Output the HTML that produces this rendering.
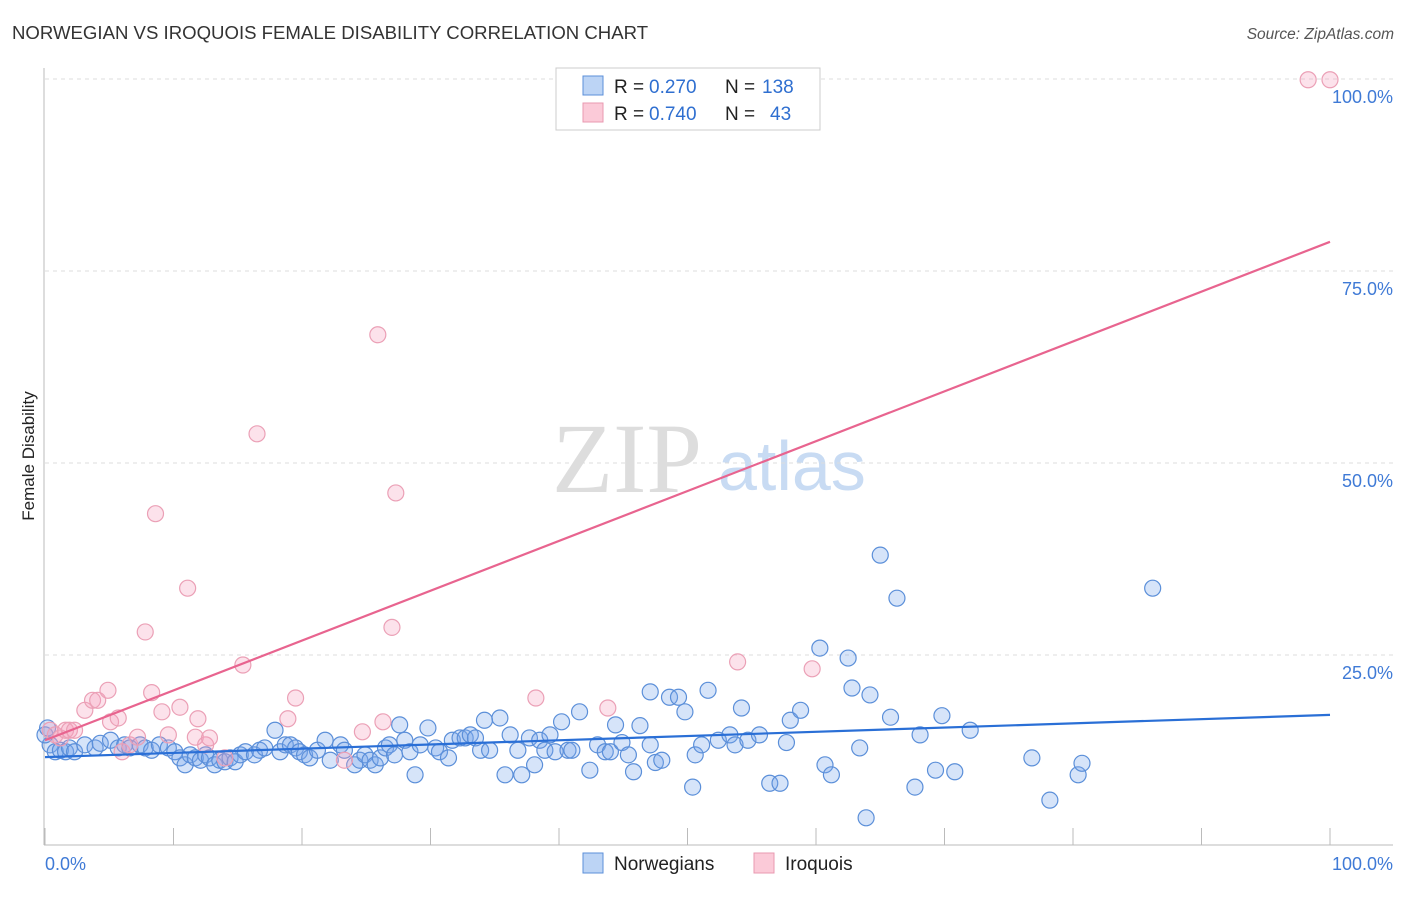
<!DOCTYPE html>
<html><head><meta charset="utf-8"><style>
body{margin:0;background:#fff;width:1406px;height:892px;overflow:hidden;font-family:"Liberation Sans",sans-serif}
</style></head><body>
<svg width="1406" height="892" xmlns="http://www.w3.org/2000/svg">
<text x="12" y="39" font-size="18.6" fill="#333">NORWEGIAN VS IROQUOIS FEMALE DISABILITY CORRELATION CHART</text>
<text x="1394" y="39" font-size="15.5" fill="#555" font-style="italic" text-anchor="end">Source: ZipAtlas.com</text>
<text transform="translate(34,456) rotate(-90)" font-size="17" fill="#222" text-anchor="middle">Female Disability</text>
<g>
<text x="552" y="492" font-size="100" font-family="Liberation Serif,serif" fill="#ddd">ZIP</text>
<text x="718" y="490" font-size="70" fill="#c8dbf3">atlas</text>
</g>
<g id="grid"></g><g id="axes"></g><g id="marks"></g>
<g>
<rect x="556" y="68" width="264" height="62" fill="#fff" stroke="#ccc"/>
<rect x="583" y="76" width="20" height="19" fill="#bcd4f5" stroke="#5b8fd9"/>
<rect x="583" y="103" width="20" height="19" fill="#fbcad8" stroke="#e899b0"/>
<text x="614" y="93" font-size="19" fill="#222">R =</text>
<text x="649" y="93" font-size="19" fill="#2f6fd0">0.270</text>
<text x="725" y="93" font-size="19" fill="#222">N =</text>
<text x="762" y="93" font-size="19" fill="#2f6fd0">138</text>
<text x="614" y="120" font-size="19" fill="#222">R =</text>
<text x="649" y="120" font-size="19" fill="#2f6fd0">0.740</text>
<text x="725" y="120" font-size="19" fill="#222">N =</text>
<text x="770" y="120" font-size="19" fill="#2f6fd0">43</text>
</g>
<g>
<rect x="583" y="853" width="20" height="20" fill="#bcd4f5" stroke="#5b8fd9"/>
<text x="614" y="870" font-size="19" fill="#222">Norwegians</text>
<rect x="754" y="853" width="20" height="20" fill="#fbcad8" stroke="#e899b0"/>
<text x="785" y="870" font-size="19" fill="#222">Iroquois</text>
</g>
</svg>
<script>
const blueX=[0.4,0.8,1.2,1.6,1.9,2.3,3.1,3.9,4.3,5.1,5.7,6.2,6.6,7.4,7.8,8.3,8.9,9.6,10.1,10.5,10.9,11.3,11.7,12.1,12.5,12.8,13.2,13.6,14.0,14.4,14.8,15.2,15.6,16.3,16.7,17.1,17.9,18.3,18.7,19.1,19.5,19.8,20.2,20.6,21.2,21.8,22.2,23.0,23.3,24.1,24.5,24.9,25.3,25.7,26.1,26.5,26.8,27.2,27.6,28.0,28.4,28.8,29.2,29.8,30.4,30.7,31.4,31.7,32.3,32.7,33.1,33.5,33.9,34.2,34.6,35.4,35.8,36.2,36.8,37.1,37.7,38.1,38.5,38.9,39.3,39.7,40.2,40.7,41.0,41.6,42.4,43.0,43.6,44.0,44.4,44.9,45.4,45.8,46.3,47.1,47.1,47.5,48.0,48.6,49.3,49.8,50.6,50.4,51.1,51.6,52.4,53.3,53.7,54.2,54.7,55.6,56.4,57.2,57.7,58.0,58.8,60.3,60.7,61.2,62.5,62.8,63.4,64.2,65.0,63.9,65.8,66.3,67.7,68.1,69.3,69.8,70.8,72.0,76.8,78.2,80.4,80.7,86.2,0,0.2];
const blueY=[13.3,12.4,12.6,12.4,12.9,12.4,13.3,12.9,13.5,13.9,12.9,13.3,12.9,13.3,12.9,12.6,13.3,12.9,12.4,11.6,10.7,12.0,11.6,11.3,12.0,11.6,10.7,11.3,11.1,11.6,11.1,12.0,12.4,12.0,12.6,12.9,15.2,12.4,13.3,13.3,12.9,12.4,12.0,11.6,12.6,13.9,11.3,13.3,12.6,10.7,11.3,12.0,11.3,10.7,11.6,12.9,13.3,12.0,15.9,13.9,12.4,9.4,13.3,15.5,12.9,12.4,11.6,13.9,14.2,14.2,14.6,14.2,12.6,16.5,12.6,16.8,9.4,14.6,12.6,9.4,14.2,10.7,13.9,12.6,14.6,12.4,16.3,12.6,12.6,17.6,10.0,13.3,12.4,12.4,15.9,13.6,12.0,9.8,15.8,13.3,20.2,11.0,11.3,19.5,19.5,17.6,12.0,7.8,13.3,20.4,13.9,14.6,13.3,18.1,13.9,14.6,8.3,8.3,13.6,16.5,17.8,25.9,10.7,9.4,24.6,20.7,12.9,19.8,38.0,3.8,16.9,32.4,7.8,14.6,10.0,17.1,9.8,15.2,11.6,6.1,9.4,10.9,33.7,14.6,15.5];
const pinkX=[0.4,0.8,1.2,1.6,1.9,2.3,3.1,3.7,4.1,4.9,5.1,5.7,6.0,6.6,7.2,7.8,8.3,8.6,9.1,9.6,10.5,11.1,11.7,11.9,12.5,12.8,14.0,15.4,16.5,18.9,19.5,23.3,24.7,25.9,26.3,27.0,27.3,38.2,43.8,53.9,59.7,98.3,100];
const pinkY=[15.2,14.6,14.2,15.2,15.2,15.2,17.8,19.1,19.1,20.4,16.3,16.8,12.4,13.3,14.3,28.0,20.1,43.4,17.6,14.6,18.2,33.7,14.3,16.7,13.3,14.2,11.6,23.7,53.8,16.7,19.4,11.3,15.0,66.7,16.3,28.6,46.1,19.4,18.1,24.1,23.2,99.9,99.9];
const blueTrend=[11.7,17.2];
const pinkTrend=[13.9,78.8];
const yTicks=[25,50,75,100];
const yTickLabels=["25.0%","50.0%","75.0%","100.0%"];
const xTicks=[0,10,20,30,40,50,60,70,80,90,100];
const xEndLabels=["0.0%","100.0%"];

const NS="http://www.w3.org/2000/svg";
const X=v=>45+v*12.85, Y=v=>847-v*7.68;
function mk(parent,tag,attrs){const e=document.createElementNS(NS,tag);for(const k in attrs)e.setAttribute(k,attrs[k]);document.getElementById(parent).appendChild(e);return e;}
yTicks.forEach((t,i)=>{
 const l=mk('grid','line',{x1:45,x2:1393,y1:Y(t),y2:Y(t),stroke:'#ddd','stroke-dasharray':'4,4'});
 
 
 const tx=mk('grid','text',{x:1393,y:Y(t)+24,'font-size':18,fill:'#3f7ad6','text-anchor':'end'});
 tx.textContent=yTickLabels[i];
 
 
});
let a=mk('axes','line',{x1:44,x2:44,y1:68,y2:845,stroke:'#bbb'});


a=mk('axes','line',{x1:44,x2:1393,y1:845,y2:845,stroke:'#bbb'});


xTicks.forEach(t=>{const l=mk('axes','line',{x1:X(t),x2:X(t),y1:828,y2:845,stroke:'#bbb'});
 
 });
let t0=mk('axes','text',{x:45,y:870,'font-size':18,fill:'#3f7ad6'});t0.textContent=xEndLabels[0];


t0=mk('axes','text',{x:1393,y:870,'font-size':18,fill:'#3f7ad6','text-anchor':'end'});t0.textContent=xEndLabels[1];


blueX.forEach((x,i)=>{const c=mk('marks','circle',{cx:X(x),cy:Y(blueY[i]),r:8,fill:'rgba(120,165,235,0.3)',stroke:'#5b8fd9','stroke-width':1.2});
 
 });
pinkX.forEach((x,i)=>{const c=mk('marks','circle',{cx:X(x),cy:Y(pinkY[i]),r:8,fill:'rgba(245,160,190,0.3)',stroke:'#eba0b6','stroke-width':1.2});
 
 });
let tl=mk('marks','line',{x1:X(0),y1:Y(blueTrend[0]),x2:X(100),y2:Y(blueTrend[1]),stroke:'#2a6fd6','stroke-width':2.2});


tl=mk('marks','line',{x1:X(0),y1:Y(pinkTrend[0]),x2:X(100),y2:Y(pinkTrend[1]),stroke:'#e8648f','stroke-width':2.2});


</script>
</body></html>
